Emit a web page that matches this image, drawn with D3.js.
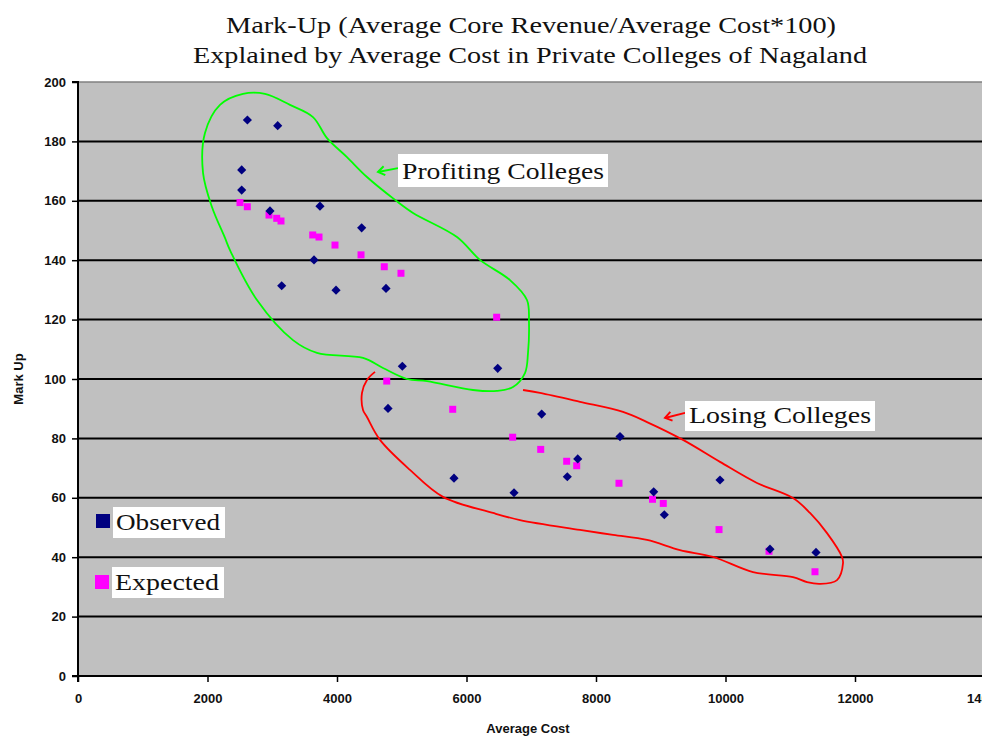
<!DOCTYPE html>
<html>
<head>
<meta charset="utf-8">
<script src="https://cdn.jsdelivr.net/npm/d3@7"></script>
<style>
  html, body { margin: 0; padding: 0; background: #ffffff; }
  svg { display: block; }
</style>
</head>
<body>
<svg id="chart" width="982" height="736"></svg>
<script>
// ---------------- DATA ----------------
const titleLines = [
  "Mark-Up (Average Core Revenue/Average Cost*100)",
  "Explained by Average Cost in Private Colleges of Nagaland"
];
const xAxisTitle = "Average Cost";
const yAxisTitle = "Mark Up";
const xTicks = [0, 2000, 4000, 6000, 8000, 10000, 12000, 14000];
const yTicks = [0, 20, 40, 60, 80, 100, 120, 140, 160, 180, 200];
const seriesNames = ["Observed", "Expected"];

const observedCost = [2616, 3084, 2528, 2528, 2965, 3737, 4381, 3645, 3146, 3985, 4757,
  5009, 6482, 4788, 7161, 8371, 7718, 7557, 5807, 6734, 8891, 9055, 9915, 10687, 11398];
const observedMarkUp = [187.2, 185.3, 170.4, 163.6, 156.6, 158.2, 150.9, 140.1, 131.4, 129.9, 130.5,
  104.3, 103.6, 90.1, 88.2, 80.6, 73.1, 67.1, 66.6, 61.7, 62.0, 54.3, 66.0, 42.7, 41.6];

const expectedCost = [2502, 2615, 2950, 3069, 3135, 3625, 3722, 3969, 4371, 4730, 4988,
  6466, 4768, 5787, 6713, 7146, 7547, 7702, 8355, 8873, 9039, 9900, 10672, 11382];
const expectedMarkUp = [159.4, 158.0, 155.2, 154.1, 153.2, 148.5, 147.8, 145.1, 141.8, 137.8, 135.6,
  120.8, 99.3, 89.8, 80.4, 76.3, 72.3, 70.8, 64.9, 59.5, 58.1, 49.3, 42.0, 35.1];

// hand-drawn annotation outlines, in data units [cost, markUp]
const profitingLabel = "Profiting Colleges";
const profitingOutline = [[2548,196],[2888,196],[3274,192.3],[3629,188.2],[3846,181.1],[4154,174.7],
  [4463,168],[4896,160.3],[5174,155.9],[5853,147.8],[6208,140.1],[6672,133.3],[6934,126.6],
  [6965,118.9],[6950,108.8],[6903,102],[6718,97.3],[6471,96],[6100,96.3],[5390,99.3],[5081,100],
  [4710,103.7],[4402,107.1],[3691,108.8],[3320,113.1],[2764,126.6],[2347,143.4],[2270,147.5],
  [2069,157.9],[1931,169.4],[1961,182.8],[2193,192.3]];
const profitingArrow = [[4942,171.0],[4633,169.7]];

const losingLabel = "Losing Colleges";
const losingOutline = [[4587,102.4],[4463,99.7],[4386,95.3],[4402,89.6],[4463,87.2],[4664,79.5],
  [5127,69.4],[5637,60.3],[6409,54.9],[6826,52.5],[7753,49.2],[8263,47.5],[8788,45.8],[9297,42.4],
  [9807,40.1],[10425,35.0],[11042,33.3],[11259,31.6],[11459,31.0],[11722,32.3],[11815,38.0],
  [11799,40.1],[11568,48.1],[11305,54.9],[11042,59.9],[10486,65.0],[9915,72.1],[9344,79.5],
  [8788,85.5],[8417,88.9],[7753,92.3],[7135,95.3],[6873,96.3]];
const losingArrow = [[9375,88.6],[9066,86.9]];

// ---------------- LAYOUT ----------------
const svg = d3.select("#chart");
const plot = { left: 78, right: 984.5, top: 82, bottom: 676 };
const x = d3.scaleLinear().domain([0, 14000]).range([plot.left, plot.right]);
const y = d3.scaleLinear().domain([0, 200]).range([plot.bottom, plot.top]);

const navy = "#000080", magenta = "#FF00FF";
const serif = "'Liberation Serif', 'Times New Roman', serif";
const sans = "'Liberation Sans', Arial, sans-serif";

// Title
const titleSpecs = [{ cx: 531, base: 33, w: 610 }, { cx: 530, base: 63, w: 674 }];
titleLines.forEach((t, i) => {
  svg.append("text")
    .attr("x", titleSpecs[i].cx).attr("y", titleSpecs[i].base)
    .attr("text-anchor", "middle")
    .attr("font-family", serif).attr("font-size", 24)
    .attr("fill", "#111")
    .attr("textLength", titleSpecs[i].w).attr("lengthAdjust", "spacingAndGlyphs")
    .text(t);
});

// Plot background
svg.append("rect")
  .attr("x", plot.left).attr("y", plot.top)
  .attr("width", plot.right - plot.left).attr("height", plot.bottom - plot.top)
  .attr("fill", "#C0C0C0");
// top border
svg.append("line")
  .attr("x1", plot.left).attr("x2", plot.right)
  .attr("y1", plot.top).attr("y2", plot.top)
  .attr("stroke", "#808080").attr("stroke-width", 1.5);

// Gridlines
svg.append("g")
  .selectAll("line")
  .data(yTicks.filter(v => v > 0 && v < 200))
  .join("line")
  .attr("x1", plot.left).attr("x2", plot.right)
  .attr("y1", d => y(d)).attr("y2", d => y(d))
  .attr("stroke", "#000").attr("stroke-width", 2);

// Axes
const yAxis = d3.axisLeft(y).tickValues(yTicks).tickSize(6).tickPadding(6).tickFormat(d3.format("d"));
const xAxis = d3.axisBottom(x).tickValues(xTicks).tickSize(6).tickPadding(12).tickFormat(d3.format("d"));

const gy = svg.append("g").attr("transform", `translate(${plot.left},0)`).call(yAxis);
const gx = svg.append("g").attr("transform", `translate(0,${plot.bottom})`).call(xAxis);
[gx, gy].forEach(g => {
  g.select(".domain").attr("stroke", "#000").attr("stroke-width", 2);
  g.selectAll(".tick line").attr("stroke", "#000").attr("stroke-width", 1.5);
  g.selectAll(".tick text")
    .attr("font-family", sans).attr("font-size", 13).attr("font-weight", "bold")
    .attr("fill", "#111");
});
gy.select(".domain").attr("d", `M-6,${plot.top}H0V${plot.bottom}H-6`);
gx.select(".domain").attr("d", `M${plot.left},6V0H${plot.right}V6`);

// Axis titles
svg.append("text")
  .attr("x", 528).attr("y", 733)
  .attr("text-anchor", "middle")
  .attr("font-family", sans).attr("font-size", 13).attr("font-weight", "bold")
  .attr("fill", "#111")
  .text(xAxisTitle);
svg.append("text")
  .attr("transform", `translate(23,${(plot.top + plot.bottom) / 2}) rotate(-90)`)
  .attr("text-anchor", "middle")
  .attr("font-family", sans).attr("font-size", 13).attr("font-weight", "bold")
  .attr("fill", "#111")
  .text(yAxisTitle);

// Annotation outlines
const closedLine = d3.line().x(d => x(d[0])).y(d => y(d[1])).curve(d3.curveCatmullRomClosed);
const openLine = d3.line().x(d => x(d[0])).y(d => y(d[1])).curve(d3.curveCatmullRom);
svg.append("path").attr("d", closedLine(profitingOutline))
  .attr("fill", "none").attr("stroke", "#00FF00").attr("stroke-width", 1.8);
svg.append("path").attr("d", openLine(losingOutline))
  .attr("fill", "none").attr("stroke", "#FF0000").attr("stroke-width", 1.8);

// Arrows
function arrow(pts, color) {
  const [p0, p1] = pts.map(p => [x(p[0]), y(p[1])]);
  svg.append("line")
    .attr("x1", p0[0]).attr("y1", p0[1]).attr("x2", p1[0]).attr("y2", p1[1])
    .attr("stroke", color).attr("stroke-width", 2);
  const ang = Math.atan2(p1[1] - p0[1], p1[0] - p0[0]);
  const L = 8, spread = 0.6;
  const a1 = [p1[0] - L * Math.cos(ang - spread), p1[1] - L * Math.sin(ang - spread)];
  const a2 = [p1[0] - L * Math.cos(ang + spread), p1[1] - L * Math.sin(ang + spread)];
  svg.append("path")
    .attr("d", `M${a1[0]},${a1[1]}L${p1[0]},${p1[1]}L${a2[0]},${a2[1]}`)
    .attr("fill", "none").attr("stroke", color).attr("stroke-width", 2);
}
arrow(profitingArrow, "#00FF00");
arrow(losingArrow, "#FF0000");

// Annotation labels
function labelBox(txt, bx, by, bw, bh) {
  svg.append("rect").attr("x", bx).attr("y", by).attr("width", bw).attr("height", bh).attr("fill", "#fff");
  svg.append("text")
    .attr("x", bx + 4).attr("y", by + bh - 8)
    .attr("font-family", serif).attr("font-size", 23).attr("fill", "#111")
    .attr("textLength", bw - 8).attr("lengthAdjust", "spacingAndGlyphs")
    .text(txt);
}
labelBox(profitingLabel, 398, 154, 210, 33);
labelBox(losingLabel, 685, 401, 190, 30);

// Points: expected (squares) then observed (diamonds) on top
const expected = expectedCost.map((c, i) => [c, expectedMarkUp[i]]);
const observed = observedCost.map((c, i) => [c, observedMarkUp[i]]);
const sq = d3.symbol().type(d3.symbolSquare).size(49);
const dia = d3.symbol().type(d3.symbolSquare).size(42);

svg.append("g").selectAll("path").data(expected).join("path")
  .attr("d", sq)
  .attr("transform", d => `translate(${x(d[0])},${y(d[1])})`)
  .attr("fill", magenta);
svg.append("g").selectAll("path").data(observed).join("path")
  .attr("d", dia)
  .attr("transform", d => `translate(${x(d[0])},${y(d[1])}) rotate(45)`)
  .attr("fill", navy);

// Legend
const legend = [
  { name: seriesNames[0], color: navy, sx: 96, sy: 514, bx: 113, by: 507, bw: 112, bh: 31 },
  { name: seriesNames[1], color: magenta, sx: 95, sy: 575, bx: 112, by: 567, bw: 112, bh: 31 }
];
legend.forEach(l => {
  svg.append("rect").attr("x", l.bx).attr("y", l.by).attr("width", l.bw).attr("height", l.bh).attr("fill", "#fff");
  svg.append("rect").attr("x", l.sx).attr("y", l.sy).attr("width", 14).attr("height", 14).attr("fill", l.color);
  svg.append("text")
    .attr("x", l.bx + 3).attr("y", l.by + l.bh - 8)
    .attr("font-family", serif).attr("font-size", 23).attr("fill", "#111")
    .attr("textLength", l.bw - 8).attr("lengthAdjust", "spacingAndGlyphs")
    .text(l.name);
});
</script>
</body>
</html>
